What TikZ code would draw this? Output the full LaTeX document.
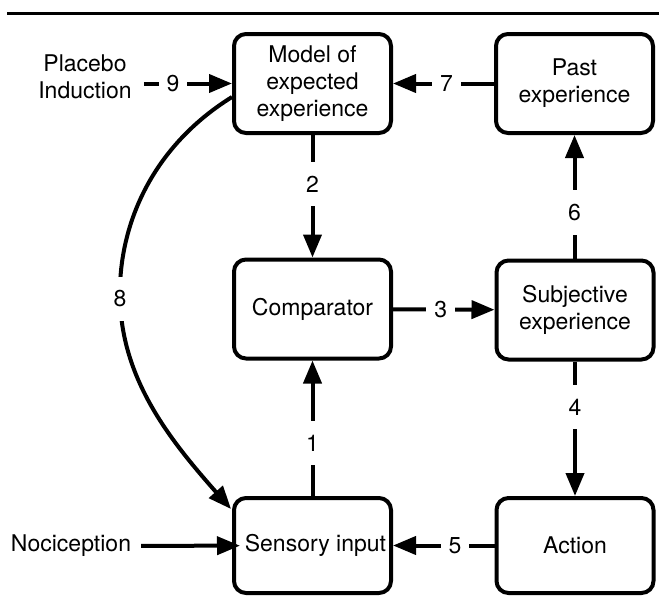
\documentclass[tikz,border=0pt]{standalone}
\usepackage{fontspec}
\setmainfont{TeX Gyre Heros}
\usetikzlibrary{arrows.meta}
\begin{document}
\begin{tikzpicture}[x=1pt,y=-1pt,
  every node/.style={font=\fontsize{23}{27}\selectfont},
  box/.style={draw,line width=4pt,rounded corners=12pt,minimum width=157pt,minimum height=99pt,align=center,inner sep=0pt},
  arr/.style={line width=4pt,-{Triangle[length=23pt,width=18pt]}},
  lbl/.style={fill=white,inner xsep=8pt,inner ysep=14pt}]
\useasboundingbox (0,0) rectangle (659,597);
\draw[line width=3pt] (7,13) -- (659,13);
\node[box] (model) at (312.5,83.5) {Model of\\expected\\experience};
\node[box] (past) at (574.5,83.5) {Past\\experience};
\node[box] (comp) at (312.5,309) {Comparator};
\node[box] (subj) at (575,310) {Subjective\\experience};
\node[box,minimum height=95pt] (sens) at (312.5,545.5) {\hspace*{6pt}Sensory input};
\node[box,minimum height=95pt] (act) at (575,545.5) {Action};
\node[align=center,inner xsep=12pt] (plac) at (85,77) {Placebo\\Induction};
\node[inner xsep=10pt] (noci) at (71,546) {Nociception};
\coordinate (c8s) at (232,97);
\coordinate (c8e) at (231,509);
\draw[arr] (plac.east |- model) -- node[lbl,pos=0.33]{9} (model);
\draw[arr] (past) -- node[lbl,pos=0.47]{7} (model);
\draw[arr] (model) -- node[lbl,pos=0.4]{2} (comp);
\draw[arr] (comp) -- node[lbl,pos=0.47]{3} (subj);
\draw[arr] (subj.north -| past) -- node[lbl,pos=0.37]{6} (past);
\draw[arr] (subj) -- node[lbl,pos=0.34]{4} (act);
\draw[arr] (act) -- node[lbl,pos=0.39]{5} (sens);
\draw[arr] (sens) -- node[lbl,pos=0.39]{1} (comp);
\draw[arr,shorten >=-8pt] (noci) -- (sens);
\draw[arr] (c8s) .. controls (150,148) and (118,228) .. (120,299)
  node[lbl,inner xsep=3pt]{8} .. controls (122,380) and (170,440) .. (c8e);
\end{tikzpicture}
\end{document}
